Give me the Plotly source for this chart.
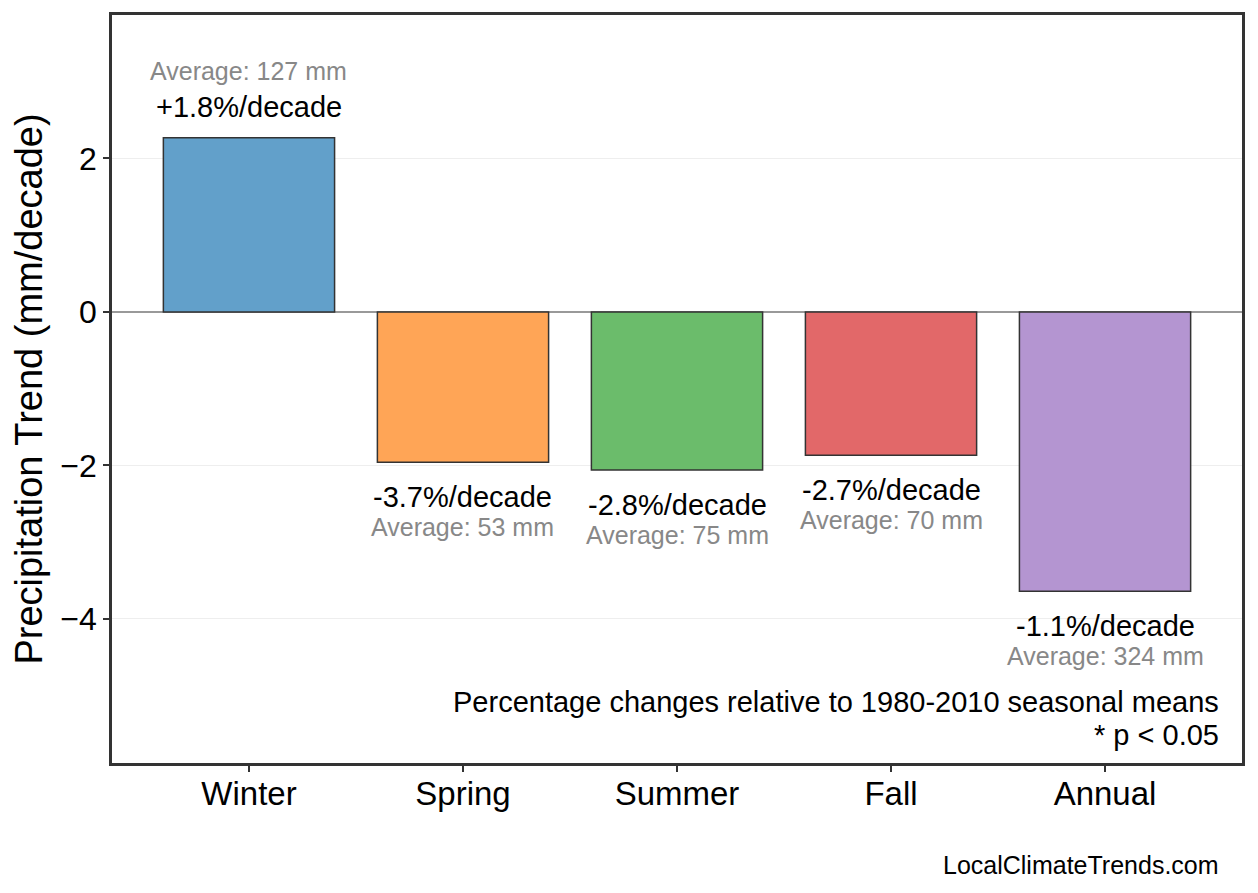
import plotly.graph_objects as go

categories = ["Winter", "Spring", "Summer", "Fall", "Annual"]
trend_mm = [2.27, -1.96, -2.06, -1.87, -3.64]
pct_per_decade = [1.8, -3.7, -2.8, -2.7, -1.1]
average_mm = [127, 53, 75, 70, 324]
bar_colors = ["#62a0ca", "#ffa556", "#6bbc6b", "#e26869", "#b495d1"]
y_ticks = [-4, -2, 0, 2]
note_lines = ["Percentage changes relative to 1980-2010 seasonal means", "* p < 0.05"]

FONT = "Liberation Sans, Arial, Helvetica, sans-serif"

fig = go.Figure()
fig.add_trace(go.Bar(
    x=categories, y=trend_mm, width=0.8,
    marker=dict(color=bar_colors, line=dict(color="#333333", width=1.5)),
    showlegend=False, hoverinfo="x+y",
))

for cat, val, pct, avg in zip(categories, trend_mm, pct_per_decade, average_mm):
    up = val >= 0
    pct_txt = f"{pct:+.1f}%/decade" if pct > 0 else f"{pct:.1f}%/decade"
    fig.add_annotation(x=cat, y=val, text=pct_txt, showarrow=False,
                       yshift=31 if up else -35, yanchor="middle", xanchor="center",
                       font=dict(family=FONT, size=29, color="black"))
    fig.add_annotation(x=cat, y=val, text=f"Average: {avg} mm", showarrow=False,
                       yshift=67 if up else -65, yanchor="middle", xanchor="center",
                       font=dict(family=FONT, size=25, color="#888888"))

for line, ypos in zip(note_lines, [0.0812, 0.0373]):
    fig.add_annotation(xref="paper", yref="paper", x=0.981, y=ypos,
                       xanchor="right", yanchor="middle", align="right",
                       text=line, showarrow=False,
                       font=dict(family=FONT, size=29, color="black"))
fig.add_annotation(xref="paper", yref="paper", x=0.981, y=-0.137,
                   xanchor="right", yanchor="middle",
                   text="LocalClimateTrends.com",
                   showarrow=False, font=dict(family=FONT, size=25, color="black"))

fig.update_layout(
    width=1250, height=885,
    margin=dict(l=104, r=16, t=4, b=130),
    plot_bgcolor="white", paper_bgcolor="white",
    font=dict(family=FONT, color="black"),
    xaxis=dict(
        range=[-0.64, 4.64], showgrid=False, zeroline=False,
        showline=True, linecolor="#333333", linewidth=2.5, mirror=True,
        ticks="outside", ticklen=6, tickwidth=1.5, tickcolor="#333333",
        ticklabelstandoff=-6,
        tickfont=dict(family=FONT, size=33, color="black"),
    ),
    yaxis=dict(
        range=[-5.88, 3.87], tickvals=y_ticks,
        showgrid=True, gridcolor="#eeeeee", gridwidth=1,
        zeroline=True, zerolinecolor="#999999", zerolinewidth=1.5,
        showline=True, linecolor="#333333", linewidth=2.5, mirror=True,
        ticks="outside", ticklen=6, tickwidth=1.5, tickcolor="#333333",
        tickfont=dict(family=FONT, size=32, color="black"),
        title=dict(text="Precipitation Trend (mm/decade)", standoff=12,
                   font=dict(family=FONT, size=38, color="black")),
    ),
)

fig.write_html("out.html")
